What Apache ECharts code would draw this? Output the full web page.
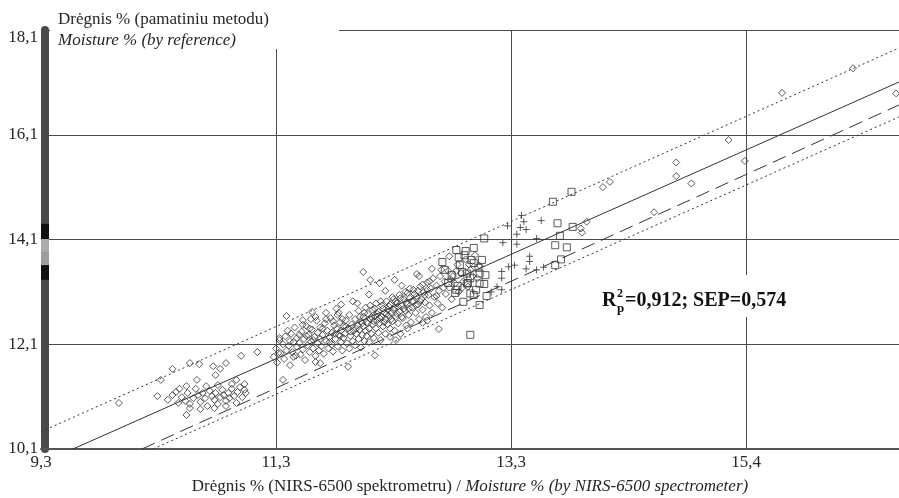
<!DOCTYPE html>
<html>
<head>
<meta charset="utf-8">
<title>Drėgnis</title>
<script src="https://cdn.jsdelivr.net/npm/echarts@6.0.0/dist/echarts.min.js"></script>
<style>
  html, body { margin: 0; padding: 0; background: #fff; }
  #chart { width: 899px; height: 498px; }
</style>
</head>
<body>
<div id="chart"></div>
<script>
const xTicks = [9.3, 11.32, 13.34, 15.36]
const xTickLabels = ['9,3', '11,3', '13,3', '15,4']
const yTicks = [10.1, 12.1, 14.1, 16.1, 18.1]
const yTickLabels = ['10,1', '12,1', '14,1', '16,1', '18,1']

// calibration samples (NIRS value, reference value)
const diamonds = [
  [9.97, 10.98], [10.30, 11.11], [10.33, 11.42], [10.39, 11.04], [10.43, 11.63], [10.43, 11.13],
  [10.46, 11.19], [10.48, 10.98], [10.49, 11.25], [10.51, 11.09], [10.54, 11.02], [10.55, 10.75],
  [10.55, 11.30], [10.56, 11.17], [10.58, 10.96], [10.58, 10.88], [10.58, 11.74], [10.61, 11.07],
  [10.63, 11.25], [10.64, 11.42], [10.65, 11.13], [10.66, 11.72], [10.67, 11.00], [10.67, 10.86],
  [10.69, 11.17], [10.71, 11.07], [10.72, 11.30], [10.73, 10.92], [10.75, 11.21], [10.77, 11.11],
  [10.78, 11.68], [10.79, 11.04], [10.79, 10.88], [10.80, 11.17], [10.80, 11.51], [10.82, 10.96],
  [10.82, 11.32], [10.84, 11.09], [10.84, 11.63], [10.86, 11.23], [10.87, 11.13], [10.89, 11.02],
  [10.89, 10.92], [10.89, 11.74], [10.91, 11.17], [10.92, 11.07], [10.94, 11.25], [10.94, 11.34],
  [10.96, 11.11], [10.98, 10.98], [10.98, 11.42], [10.99, 11.19], [11.01, 11.28], [11.02, 11.88],
  [11.03, 11.09], [11.05, 11.34], [11.05, 11.23], [11.06, 11.17], [11.16, 11.95],
  [11.34, 11.93], [11.38, 11.42], [11.47, 11.86], [11.41, 12.64], [11.63, 12.72], [11.55, 12.47],
  [11.66, 11.76], [11.35, 12.22],
  [11.30, 11.86], [11.32, 12.02], [11.33, 11.75], [11.35, 12.18], [11.36, 11.93], [11.38, 12.10],
  [11.39, 11.82], [11.40, 12.25], [11.41, 11.98], [11.43, 12.07], [11.44, 11.70], [11.45, 12.30],
  [11.46, 11.95], [11.47, 12.14], [11.48, 12.42], [11.49, 11.88], [11.50, 12.05], [11.50, 12.22],
  [11.52, 12.12], [11.53, 11.90], [11.54, 12.34], [11.55, 12.00], [11.56, 12.20], [11.57, 11.80],
  [11.58, 12.45], [11.59, 12.08], [11.60, 12.28], [11.61, 11.95], [11.62, 12.15], [11.63, 12.38],
  [11.64, 12.02], [11.65, 12.24], [11.66, 11.88], [11.67, 12.55], [11.68, 12.12], [11.68, 12.32],
  [11.69, 11.98], [11.70, 12.20], [11.70, 12.42], [11.66, 12.62],
  [11.71, 12.06], [11.72, 12.28], [11.73, 11.92], [11.74, 12.50], [11.75, 12.16], [11.76, 12.36],
  [11.77, 12.02], [11.78, 12.24], [11.79, 12.60], [11.80, 12.10], [11.80, 12.32], [11.81, 11.96],
  [11.82, 12.46], [11.83, 12.20], [11.84, 12.40], [11.85, 12.06], [11.86, 12.28], [11.86, 12.70],
  [11.87, 12.52], [11.88, 12.14], [11.88, 12.36], [11.89, 11.98], [11.90, 12.44], [11.90, 12.22],
  [11.84, 12.78],
  [11.91, 12.30], [11.92, 12.56], [11.93, 12.12], [11.94, 12.40], [11.95, 12.02], [11.95, 12.66],
  [11.96, 12.26], [11.97, 12.48], [11.98, 12.16], [11.99, 12.36], [12.00, 12.58], [12.00, 12.08],
  [12.01, 12.30], [12.02, 12.46], [12.03, 12.74], [12.03, 12.20], [12.04, 12.38], [12.05, 12.54],
  [12.05, 12.04], [12.06, 12.28], [12.07, 12.62], [12.07, 12.44], [12.08, 12.16], [12.09, 12.36],
  [12.09, 12.80], [12.10, 12.52], [12.10, 12.26], [12.02, 12.88],
  [12.11, 12.68], [12.12, 12.40], [12.12, 12.14], [12.13, 12.58], [12.14, 12.30], [12.15, 12.76],
  [12.15, 12.48], [12.16, 12.22], [12.17, 12.64], [12.18, 12.40], [12.18, 12.88], [12.19, 12.56],
  [12.20, 12.32], [12.20, 12.72], [12.21, 12.50], [12.22, 12.18], [12.23, 12.62], [12.23, 12.84],
  [12.24, 12.44], [12.25, 12.70], [12.26, 12.30], [12.26, 12.58], [12.27, 12.92], [12.28, 12.48],
  [12.28, 12.76], [12.29, 12.64], [12.30, 12.40], [12.30, 12.86],
  [12.31, 12.70], [12.32, 12.54], [12.33, 12.96], [12.34, 12.80], [12.34, 12.36], [12.35, 12.62],
  [12.36, 12.88], [12.37, 12.50], [12.38, 13.04], [12.38, 12.72], [12.39, 12.30], [12.40, 12.84],
  [12.41, 12.60], [12.42, 12.96], [12.43, 12.74], [12.44, 12.46], [12.45, 13.08], [12.45, 12.86],
  [12.46, 12.66], [12.47, 12.98], [12.48, 12.52], [12.49, 12.80], [12.50, 13.14], [12.50, 12.92],
  [12.52, 12.70], [12.53, 13.02], [12.54, 12.86], [12.55, 12.58], [12.56, 13.20], [12.57, 12.96],
  [12.58, 12.76], [12.59, 13.10], [12.60, 12.90], [12.61, 12.62], [12.62, 13.28], [12.63, 13.04],
  [12.64, 12.84], [12.65, 13.16], [12.66, 12.70], [12.67, 13.36], [12.68, 13.00], [12.70, 13.22],
  [12.71, 12.88], [12.72, 13.12], [12.73, 13.40], [12.75, 12.80],
  [12.77, 13.30], [12.78, 13.06], [12.80, 13.50], [12.81, 13.18], [12.83, 12.96], [12.84, 13.40],
  [12.86, 13.26], [12.88, 13.62], [12.89, 13.10], [12.91, 13.46], [12.93, 13.30], [12.95, 13.72],
  [12.97, 13.20], [12.99, 13.52], [13.01, 13.40], [13.03, 13.80], [13.05, 13.36], [13.07, 13.60],
  [12.07, 13.48], [12.13, 13.33], [12.21, 13.27], [12.34, 13.33], [12.53, 13.44], [12.66, 13.54],
  [12.74, 13.52], [12.81, 13.78], [12.72, 12.39], [12.58, 12.51], [12.17, 11.89], [11.94, 11.67],
  [11.70, 11.74], [12.30, 12.24],
  [11.92, 12.44], [11.96, 12.34], [12.01, 12.40], [12.04, 12.62], [12.06, 12.50], [12.08, 12.70],
  [12.11, 12.50], [12.13, 12.84], [12.14, 12.62], [12.16, 12.54], [12.17, 12.78], [12.19, 12.68],
  [12.21, 12.60], [12.22, 12.92], [12.24, 12.78], [12.25, 12.52], [12.27, 12.68], [12.29, 12.82],
  [12.31, 12.58], [12.32, 13.00], [12.33, 12.76], [12.35, 12.92], [12.36, 12.68], [12.37, 12.82],
  [12.39, 12.98], [12.40, 12.62], [12.42, 12.78], [12.43, 13.10], [12.44, 12.90], [12.46, 12.78],
  [12.47, 13.16], [12.49, 12.92], [12.51, 13.06], [12.52, 12.84], [12.54, 13.12], [12.56, 12.92],
  [12.58, 13.24], [12.60, 13.04], [12.62, 13.14], [12.64, 13.30], [11.72, 12.40], [11.75, 12.58],
  [11.78, 12.14], [11.81, 12.54], [11.83, 12.30], [11.85, 12.66], [11.87, 12.26], [11.89, 12.58],
  [11.58, 12.26], [11.61, 12.40], [11.64, 12.18], [11.52, 12.28], [11.44, 12.16], [11.42, 12.36],
  [12.70, 13.02], [12.76, 13.18], [12.82, 13.34], [12.87, 13.50], [12.92, 13.18], [12.98, 13.62],
  [11.55, 12.56], [11.75, 12.70], [11.98, 12.92], [12.12, 13.05], [12.26, 13.12], [12.40, 13.22],
  [12.55, 13.40], [11.62, 12.58], [11.88, 12.86], [12.45, 12.40], [12.62, 12.55], [12.35, 12.18],
  [13.94, 14.31], [13.95, 14.23], [13.99, 14.44], [14.13, 15.10], [14.19, 15.20], [14.57, 14.62],
  [14.76, 15.57], [14.76, 15.31], [14.89, 15.17], [15.21, 16.00], [15.35, 15.60], [15.67, 16.90],
  [16.28, 17.37], [16.65, 16.89]
]
const squares = [
  [13.11, 14.12], [12.95, 13.88], [12.89, 13.76], [13.09, 13.71], [13.00, 13.71], [12.90, 13.61],
  [12.77, 13.52], [12.83, 13.42], [12.92, 13.48], [12.99, 13.36], [13.06, 13.56], [13.12, 13.42],
  [12.80, 13.27], [12.88, 13.21], [12.97, 13.27], [13.04, 13.14], [13.11, 13.25], [13.13, 13.02],
  [12.86, 13.08], [12.75, 13.67], [13.02, 13.94], [12.87, 13.90], [12.94, 13.80], [13.02, 13.65],
  [12.96, 13.45], [13.07, 13.45], [12.96, 13.26], [13.07, 13.26], [12.99, 13.07], [13.02, 13.04],
  [12.93, 12.91], [13.07, 12.85], [12.87, 13.14], [12.99, 12.28], [13.70, 14.82], [13.86, 15.01],
  [13.74, 14.41], [13.87, 14.34], [13.76, 14.17], [13.72, 13.99], [13.82, 13.95], [13.77, 13.72],
  [13.72, 13.61]
]
const crosses = [
  [13.43, 14.56], [13.45, 14.44], [13.31, 14.36], [13.42, 14.33], [13.47, 14.29], [13.60, 14.46],
  [13.39, 14.20], [13.39, 14.01], [13.27, 14.04], [13.56, 14.12], [13.50, 13.78], [13.50, 13.68],
  [13.32, 13.58], [13.37, 13.61], [13.26, 13.49], [13.47, 13.54], [13.56, 13.52], [13.62, 13.57],
  [13.26, 13.36], [13.22, 13.20], [13.17, 13.10], [13.26, 13.14]
]

// regression line, bias-corrected line and the two prediction limits
const fitLine = [[9.575, 10.1], [16.675, 17.107]]
const biasLine = [[10.168, 10.1], [16.675, 16.668]]
const upperLimit = [[9.3, 10.43], [16.675, 17.756]]
const lowerLimit = [[10.263, 10.1], [16.675, 16.44]]

// bands drawn on the left axis bar
const axisBarStops = [14.40, 14.11, 13.86, 13.61, 13.33]

const serif = "'Liberation Serif', 'Times New Roman', serif"
const ink = '#262626'
const hollow = { color: 'rgba(0,0,0,0)', borderColor: '#333', borderWidth: 1 }

const nearest = (ticks, labels, v) => {
  let best = 0
  ticks.forEach((t, i) => {
    if (Math.abs(t - v) < Math.abs(ticks[best] - v)) best = i
  })
  return labels[best]
}

const lineSeries = (data, type) => ({
  type: 'line',
  data,
  showSymbol: false,
  silent: true,
  z: 3,
  lineStyle: { color: '#333', width: 1, type },
  emphasis: { disabled: true },
})

const option = {
  animation: false,
  backgroundColor: '#fff',
  title: {
    left: 50,
    top: 0,
    padding: [9, 70, 0, 8],
    backgroundColor: '#fff',
    text: '{a|Drėgnis % (pamatiniu metodu)}\n{b|Moisture % (by reference)}',
    textStyle: {
      fontWeight: 'normal',
      rich: {
        a: { fontFamily: serif, fontSize: 17, fontWeight: 'normal', color: ink, lineHeight: 21 },
        b: { fontFamily: serif, fontSize: 17, fontWeight: 'normal', color: ink, lineHeight: 21, fontStyle: 'italic' },
      },
    },
  },
  grid: { left: 41, right: 0, top: 30, bottom: 49, outerBoundsMode: 'none' },
  xAxis: {
    type: 'value',
    min: 9.3,
    max: 16.675,
    axisLine: { lineStyle: { color: '#555', width: 2 } },
    axisTick: { show: false, customValues: xTicks },
    axisLabel: {
      customValues: xTicks,
      formatter: (v) => nearest(xTicks, xTickLabels, v),
      margin: 5,
      fontFamily: serif,
      fontSize: 17,
      color: ink,
    },
    splitLine: { show: true, lineStyle: { color: '#4a4a4a', width: 1 } },
    name: '{a|Drėgnis % (NIRS-6500 spektrometru) / }{b|Moisture % (by NIRS-6500 spectrometer)}',
    nameLocation: 'middle',
    nameGap: 29,
    nameTextStyle: {
      rich: {
        a: { fontFamily: serif, fontSize: 17, color: ink },
        b: { fontFamily: serif, fontSize: 17, color: ink, fontStyle: 'italic' },
      },
    },
  },
  yAxis: {
    type: 'value',
    min: 10.1,
    max: 18.1,
    offset: -4,
    axisLine: { show: true, lineStyle: { color: '#4a4a4a', width: 8 } },
    axisTick: { show: false, customValues: yTicks },
    axisLabel: {
      customValues: yTicks,
      formatter: (v) => {
        const s = nearest(yTicks, yTickLabels, v)
        return v > 18 ? '{t|' + s + '}' : s
      },
      margin: 7,
      fontFamily: serif,
      fontSize: 17,
      color: ink,
      rich: { t: { fontFamily: serif, fontSize: 17, color: ink, padding: [16, 0, 0, 0] } },
    },
    splitLine: { show: true, lineStyle: { color: '#4a4a4a', width: 1 } },
  },
  series: [
    lineSeries(upperLimit, [2, 3]),
    lineSeries(lowerLimit, [2, 3]),
    lineSeries(biasLine, [14, 7]),
    lineSeries(fitLine, 'solid'),
    {
      type: 'scatter',
      data: diamonds,
      symbol: 'diamond',
      symbolSize: 7,
      silent: true,
      itemStyle: hollow,
      emphasis: { disabled: true },
    },
    {
      type: 'scatter',
      data: squares,
      symbol: 'rect',
      symbolSize: 7,
      silent: true,
      itemStyle: hollow,
      emphasis: { disabled: true },
    },
    {
      type: 'scatter',
      data: crosses,
      symbol: 'path://M0,5L10,5M5,0L5,10',
      symbolSize: 7,
      silent: true,
      itemStyle: hollow,
      emphasis: { disabled: true },
    },
  ],
}

const chart = echarts.init(document.getElementById('chart'), null, { renderer: 'canvas' })
chart.setOption(option)

const barColors = ['#111', '#ababab', '#9e9e9e', '#111']
const yPx = (v) => chart.convertToPixel({ yAxisIndex: 0 }, v)
const barX = chart.convertToPixel({ xAxisIndex: 0 }, 9.3)
const barRects = barColors.map((c, i) => ({
  type: 'rect',
  z: 100,
  shape: { x: barX, y: yPx(axisBarStops[i]), width: 8, height: yPx(axisBarStops[i + 1]) - yPx(axisBarStops[i]) },
  style: { fill: c },
  silent: true,
}))

const statFont = 'bold 20px ' + serif
chart.setOption({
  graphic: [
    ...barRects,
    { type: 'rect', z: 100, silent: true, shape: { x: 597, y: 275, width: 195, height: 42 }, style: { fill: '#fff' } },
    { type: 'text', z: 101, silent: true, x: 602, y: 301, style: { text: 'R', font: statFont, fill: '#111', verticalAlign: 'middle' } },
    { type: 'text', z: 101, silent: true, x: 617, y: 309, style: { text: 'p', font: 'bold 13px ' + serif, fill: '#111', verticalAlign: 'middle' } },
    { type: 'text', z: 101, silent: true, x: 617, y: 294, style: { text: '2', font: 'bold 12px ' + serif, fill: '#111', verticalAlign: 'middle' } },
    { type: 'text', z: 101, silent: true, x: 625, y: 301, style: { text: '=0,912; SEP=0,574', font: statFont, fill: '#111', verticalAlign: 'middle' } },
  ],
})
</script>
</body>
</html>
